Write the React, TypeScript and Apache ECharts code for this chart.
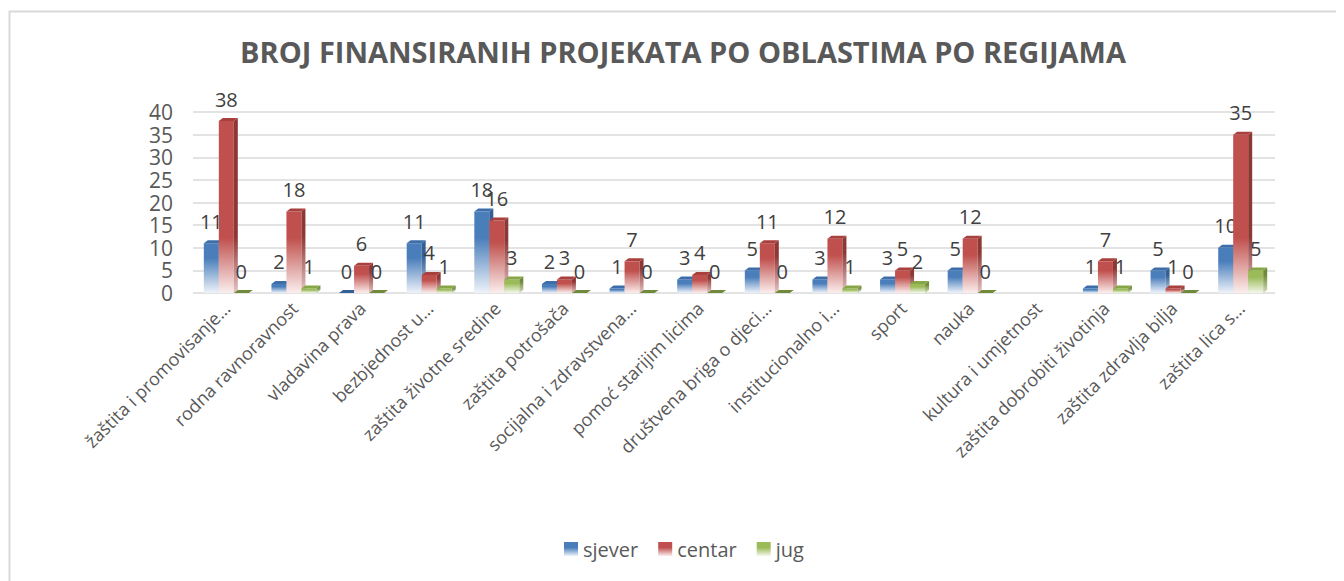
import React, { useEffect, useRef } from "react";
import * as echarts from "echarts";

const categories = [
  "žaštita i promovisanje…",
  "rodna ravnoravnost",
  "vladavina prava",
  "bezbjednost u…",
  "zaštita životne sredine",
  "zaštita potrošača",
  "socijalna i zdravstvena…",
  "pomoć starijim licima",
  "društvena briga o djeci…",
  "institucionalno i…",
  "sport",
  "nauka",
  "kultura i umjetnost",
  "zaštita dobrobiti životinja",
  "zaštita zdravlja bilja",
  "zaštita lica s…",
];

const sjever = [11, 2, 0, 11, 18, 2, 1, 3, 5, 3, 3, 5, null, 1, 5, 10];
const centar = [38, 18, 6, 4, 16, 3, 7, 4, 11, 12, 5, 12, null, 7, 1, 35];
const jug = [0, 1, 0, 1, 3, 0, 0, 0, 0, 1, 2, 0, null, 1, 0, 5];

const seriesNames = ["sjever", "centar", "jug"];
const yTicks = { min: 0, max: 40, interval: 5 };

const palette = [
  { front: "#4a7ebb", side: "#335f94", top: "#3d6ea9", pale: "#eef3fa", sidePale: "#c8d6ea" },
  { front: "#c0504d", side: "#8e3836", top: "#a8403d", pale: "#fbefee", sidePale: "#e5c4c3" },
  { front: "#9bbb59", side: "#6f8a3b", top: "#86a648", pale: "#f4f8ec", sidePale: "#d4e0bd" },
];

const FONT = '"Open Sans", "DejaVu Sans", sans-serif';

export default function App() {
  const ref = useRef<HTMLDivElement>(null);

  useEffect(() => {
    if (!ref.current) return;
    const chart = echarts.init(ref.current, undefined, { renderer: "svg" });
    const allData = [sjever, centar, jug];
    const offsets = [-15.5, -0.5, 14.5];
    const bw = 15;
    const dx = 4;
    const dy = 3;

    const makeSeries = (idx: number) => {
      const pal = palette[idx];
      return {
        name: seriesNames[idx],
        type: "custom",
        itemStyle: {
          color: {
            type: "linear",
            x: 0,
            y: 0,
            x2: 0,
            y2: 1,
            colorStops: [
              { offset: 0, color: pal.front },
              { offset: 0.4, color: pal.front },
              { offset: 1, color: pal.pale },
            ],
          },
        },
        data: allData[idx].map((v, i) => [i, v]),
        renderItem: (params: any, api: any) => {
          const cat = api.value(0);
          const raw = allData[idx][cat];
          if (raw === null || raw === undefined) return null;
          const v = api.value(1);
          const base = api.coord([cat, 0]);
          const topP = api.coord([cat, v]);
          const x0 = base[0] + offsets[idx] - bw / 2;
          const yb = base[1];
          const yt = topP[1];
          const h = yb - yt;
          const fade = Math.min(55, 0.7 * h);
          const t = h > 0 ? Math.max(0, 1 - fade / h) : 0;
          const children: any[] = [];
          if (h > 0) {
            children.push({
              type: "rect",
              shape: { x: x0, y: yt, width: bw, height: h },
              style: {
                fill: {
                  type: "linear",
                  x: 0,
                  y: 0,
                  x2: 0,
                  y2: 1,
                  colorStops: [
                    { offset: 0, color: pal.front },
                    { offset: t, color: pal.front },
                    { offset: 1, color: pal.pale },
                  ],
                },
              },
            });
            children.push({
              type: "polygon",
              shape: {
                points: [
                  [x0 + bw, yt],
                  [x0 + bw + dx, yt - dy],
                  [x0 + bw + dx, yb - dy],
                  [x0 + bw, yb],
                ],
              },
              style: {
                fill: {
                  type: "linear",
                  x: 0,
                  y: 0,
                  x2: 0,
                  y2: 1,
                  colorStops: [
                    { offset: 0, color: pal.side },
                    { offset: t, color: pal.side },
                    { offset: 1, color: pal.sidePale },
                  ],
                },
              },
            });
          }
          children.push({
            type: "polygon",
            shape: {
              points: [
                [x0, yt],
                [x0 + dx, yt - dy],
                [x0 + bw + dx, yt - dy],
                [x0 + bw, yt],
              ],
            },
            style: { fill: h > 0 ? pal.top : pal.side },
          });
          children.push({
            type: "text",
            style: {
              text: String(raw),
              x: x0 + bw / 2,
              y: yt - 12,
              align: "center",
              verticalAlign: "bottom",
              fill: "#404040",
              fontSize: 20,
              fontFamily: FONT,
            },
          });
          return { type: "group", children };
        },
      };
    };

    chart.setOption({
      animation: false,
      backgroundColor: "#ffffff",
      title: {
        text: "BROJ FINANSIRANIH PROJEKATA PO OBLASTIMA PO REGIJAMA",
        left: 670,
        top: 24,
        textAlign: "center",
        textStyle: {
          color: "#595959",
          fontSize: 29,
          fontWeight: "bold",
          fontFamily: FONT,
        },
      },
      graphic: [
        {
          type: "rect",
          shape: { x: 1.5, y: 3.5, width: 2000, height: 2000 },
          style: { fill: "none", stroke: "#d9d9d9", lineWidth: 2 },
          silent: true,
        },
      ],
      legend: {
        data: seriesNames,
        left: 551,
        top: 526,
        itemWidth: 14,
        itemHeight: 14,
        itemGap: 20,
        icon: "rect",
        textStyle: { color: "#595959", fontSize: 20, fontFamily: FONT },
      },
      grid: { left: 185, right: 69, top: 104, bottom: 288, containLabel: false },
      xAxis: {
        type: "category",
        data: categories,
        axisLine: { show: false },
        axisTick: { show: false },
        axisLabel: {
          interval: 0,
          rotate: 45,
          margin: 12,
          color: "#595959",
          fontSize: 18,
          fontFamily: FONT,
        },
      },
      yAxis: {
        type: "value",
        min: yTicks.min,
        max: yTicks.max,
        interval: yTicks.interval,
        axisLine: { show: false },
        axisTick: { show: false },
        axisLabel: { color: "#595959", fontSize: 21, lineHeight: 20, fontFamily: FONT, margin: 20 },
        splitLine: { lineStyle: { color: "#e3e3e3", width: 2 } },
      },
      series: [makeSeries(0), makeSeries(1), makeSeries(2)],
    });

    return () => chart.dispose();
  }, []);

  return <div ref={ref} style={{ width: 1336, height: 573 }} />;
}
